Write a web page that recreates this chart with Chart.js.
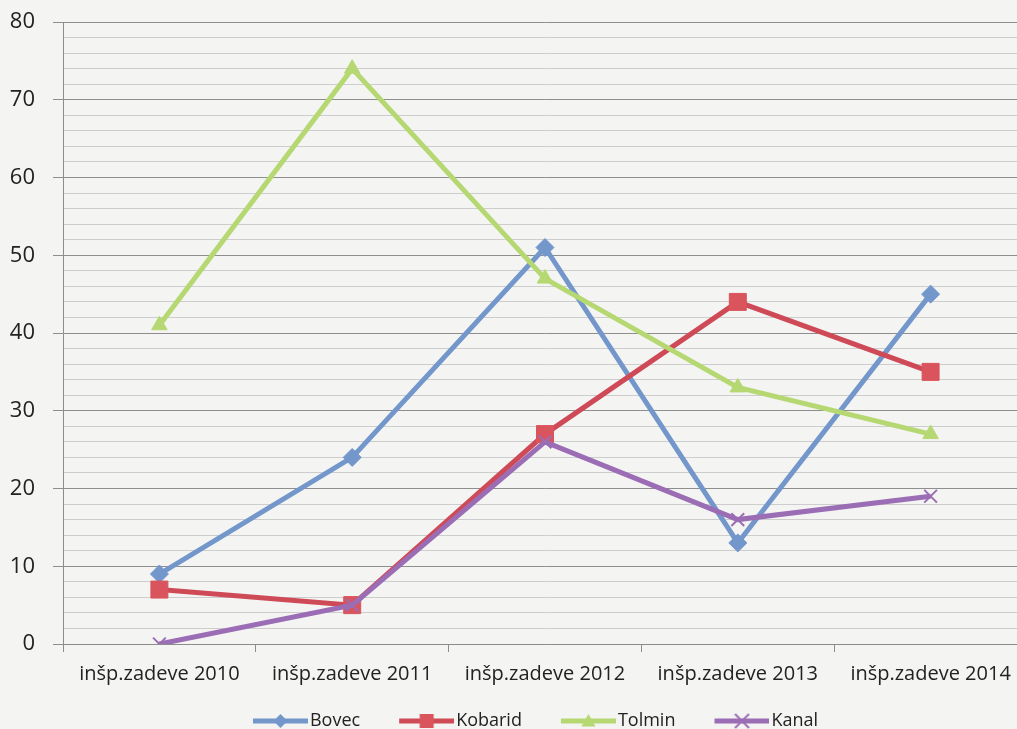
<!DOCTYPE html>
<html>
<head>
<meta charset="utf-8">
<script src="https://cdn.jsdelivr.net/npm/chart.js@4"></script>
<style>
  html, body { margin: 0; padding: 0; background: #f4f4f3; overflow: hidden; }
  #wrap { width: 1017px; height: 729px; overflow: hidden; position: relative; }
  canvas { display: block; }
</style>
</head>
<body>
<div id="wrap"><canvas id="chart" width="1040" height="740"></canvas></div>
<script>
// podatki, odčitani z grafa
const categories = ['inšp.zadeve 2010', 'inšp.zadeve 2011', 'inšp.zadeve 2012', 'inšp.zadeve 2013', 'inšp.zadeve 2014'];
const bovec   = [9, 24, 51, 13, 45];
const kobarid = [7, 5, 27, 44, 35];
const tolmin  = [41, 74, 47, 33, 27];
const kanal   = [0, 5, 26, 16, 19];
const yMin = 0;
const yMax = 80;
const yStep = 2;

const FONT = "'Open Sans', 'DejaVu Sans', sans-serif";

const series = [
    { label: 'Bovec',   data: bovec,   color: '#7397cb', fill: '#7397cb', style: 'rectRot',  radius: 9 },
    { label: 'Kobarid', data: kobarid, color: '#cf4a57', fill: '#d9545c', style: 'rect',     radius: 12 },
    { label: 'Tolmin',  data: tolmin,  color: '#b6d872', fill: '#b6d872', style: 'triangle', radius: 9 },
    { label: 'Kanal',   data: kanal,   color: '#9b6db5', fill: '#9b6db5', style: 'crossRot', radius: 9 }
];

// legenda v slogu Excela: črta z oznako na sredini
function legendIcon(s) {
    const c = document.createElement('canvas');
    c.width = 101;
    c.height = 20;
    const g = c.getContext('2d');
    g.strokeStyle = s.color;
    g.lineWidth = 5;
    g.beginPath();
    g.moveTo(46, 10);
    g.lineTo(101, 10);
    g.stroke();
    const cx = 73.5, cy = 10, r = 7;
    g.fillStyle = s.fill;
    g.strokeStyle = s.color;
    g.lineWidth = 2;
    g.beginPath();
    if (s.style === 'rectRot') {
        g.moveTo(cx, cy - r); g.lineTo(cx + r, cy); g.lineTo(cx, cy + r); g.lineTo(cx - r, cy);
        g.closePath(); g.fill();
    } else if (s.style === 'rect') {
        g.rect(cx - r, cy - r, 2 * r, 2 * r); g.fill();
    } else if (s.style === 'triangle') {
        g.moveTo(cx, cy - r); g.lineTo(cx + r, cy + r * 0.8); g.lineTo(cx - r, cy + r * 0.8);
        g.closePath(); g.fill();
    } else {
        g.moveTo(cx - r, cy - r); g.lineTo(cx + r, cy + r);
        g.moveTo(cx + r, cy - r); g.lineTo(cx - r, cy + r);
        g.stroke();
    }
    return c;
}

const datasets = series.map((s, i) => ({
    label: s.label,
    data: s.data,
    borderColor: s.color,
    backgroundColor: s.fill,
    borderWidth: 5,
    tension: 0,
    pointStyle: s.style,
    pointRadius: s.radius,
    pointHoverRadius: s.radius,
    pointBackgroundColor: s.fill,
    pointBorderColor: s.style === 'crossRot' ? s.color : s.fill,
    pointBorderWidth: s.style === 'crossRot' ? 2 : 1,
    order: series.length - 1 - i
}));

const icons = series.map(legendIcon);

new Chart(document.getElementById('chart'), {
    type: 'line',
    data: { labels: categories, datasets: datasets },
    options: {
        responsive: false,
        animation: false,
        devicePixelRatio: 1,
        layout: { padding: { top: 0, right: 8, bottom: 0, left: 0 } },
        scales: {
            x: {
                offset: true,
                grid: {
                    offset: true,
                    drawOnChartArea: false,
                    drawTicks: true,
                    tickLength: 8,
                    color: '#8c8c8c'
                },
                border: { display: true, color: '#8c8c8c', width: 1 },
                ticks: {
                    color: '#222',
                    padding: 10,
                    maxRotation: 0,
                    font: { family: FONT, size: 20 }
                },
                afterFit: scale => { scale.height = 68; }
            },
            y: {
                min: yMin,
                max: yMax,
                grid: {
                    color: ctx => (ctx.tick && ctx.tick.value % 10 === 0) ? '#8e8e8e' : '#cdcdcd',
                    tickColor: ctx => (ctx.tick && ctx.tick.value % 10 === 0) ? '#8e8e8e' : 'rgba(0,0,0,0)',
                    tickLength: 10,
                    lineWidth: 1
                },
                border: { display: true, color: '#8c8c8c', width: 1 },
                ticks: {
                    stepSize: yStep,
                    autoSkip: false,
                    padding: 18,
                    color: '#222',
                    font: { family: FONT, size: 22 },
                    callback: v => (v % 10 === 0 ? v : '')
                },
                afterFit: scale => {
                    scale.width = 63;
                    scale.paddingTop = 22;
                    scale.paddingBottom = 0;
                }
            }
        },
        plugins: {
            legend: {
                position: 'bottom',
                labels: {
                    usePointStyle: true,
                    pointStyleWidth: 87,
                    padding: 0,
                    color: '#222',
                    font: { family: FONT, size: 18 },
                    generateLabels: chart => {
                        const items = Chart.defaults.plugins.legend.labels.generateLabels(chart);
                        items.sort((a, b) => a.datasetIndex - b.datasetIndex);
                        items.forEach(it => { it.pointStyle = icons[it.datasetIndex]; });
                        return items;
                    }
                }
            },
            tooltip: { enabled: false }
        }
    }
});
</script>
</body>
</html>
